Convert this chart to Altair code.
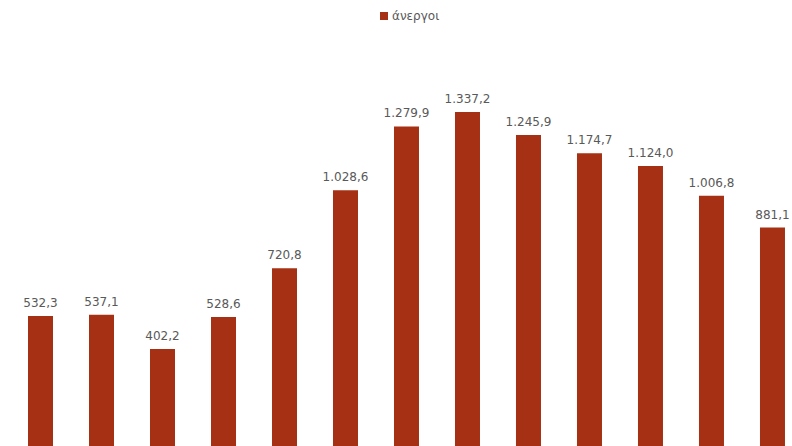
import altair as alt
import pandas as pd

positions = list(range(13))
values = [532.3, 537.1, 402.2, 528.6, 720.8, 1028.6, 1279.9, 1337.2, 1245.9, 1174.7, 1124.0, 1006.8, 881.1]
series = "άνεργοι"

def fmt(v):
    s = f"{v:,.1f}"
    return s.replace(",", "X").replace(".", ",").replace("X", ".")

df = pd.DataFrame({
    "pos": positions,
    "value": values,
    "label": [fmt(v) for v in values],
    "series": [series] * len(values),
})

x = alt.X("pos:Q", scale=alt.Scale(domain=[-0.664, 12.320], nice=False, zero=False, padding=0), axis=None)
y = alt.Y("value:Q", scale=alt.Scale(domain=[19.7, 1542], nice=False, zero=False, padding=0), axis=None)

bars = alt.Chart(df).mark_bar(size=25, clip=True).encode(
    x=x,
    y=y,
    y2=alt.datum(0),
    color=alt.Color(
        "series:N",
        scale=alt.Scale(domain=[series], range=["#A53013"]),
        legend=alt.Legend(
            title=None,
            orient="none",
            legendX=378,
            legendY=-50,
            symbolType="square",
            symbolSize=64,
            symbolStrokeWidth=0,
            labelFont="DejaVu Sans",
            labelFontSize=12,
            labelColor="#595959",
            labelOffset=2,
        ),
    ),
)

labels = alt.Chart(df).mark_text(
    dy=-9, baseline="alphabetic", font="DejaVu Sans", fontSize=12, color="#595959"
).encode(x=x, y=y, text="label:N")

chart = (bars + labels).properties(
    width=792,
    height=386,
    padding={"top": 60, "left": 0, "right": 0, "bottom": 0},
    autosize=alt.AutoSizeParams(type="none"),
    background="white",
).configure_view(stroke=None)

chart.save("out.html", embed_options={"renderer": "svg", "actions": False})
